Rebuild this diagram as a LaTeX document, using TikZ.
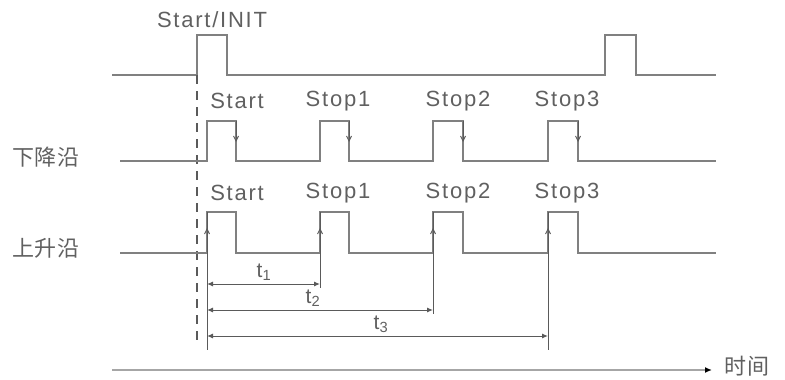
\documentclass[tikz,border=0pt]{standalone}
\usepackage{fontspec}
\setmainfont{Liberation Sans}[LetterSpace=8]
\newfontfamily\cjk{Noto Sans CJK SC}[LetterSpace=4]
\usetikzlibrary{arrows.meta}
\definecolor{wave}{HTML}{808080}
\definecolor{dim}{HTML}{5A5A5A}
\definecolor{txt}{HTML}{606060}
\begin{document}
\begin{tikzpicture}[x=1pt,y=-1pt,
  wavel/.style={draw=wave,line width=1.8pt},
  edgearrow/.style={draw=dim,line width=0.9pt,-{Straight Barb[length=5pt,width=5pt]}},
  dimline/.style={draw=dim,line width=1pt},
  dimarrow/.style={draw=dim,line width=1pt,{Latex[length=6pt,width=5pt]}-{Latex[length=6pt,width=5pt]}},
  lbl/.style={text=txt,font=\fontsize{22}{24}\selectfont,inner sep=0pt},
  cjklbl/.style={text=txt,font=\cjk\fontsize{22}{24}\selectfont,inner sep=0pt},
  tlbl/.style={text=txt,font=\fontsize{21}{24}\selectfont,inner sep=0pt}]
\useasboundingbox (0,0) rectangle (785,380);
% row 1: Start/INIT
\draw[wavel] (112,75) -- (197,75) -- (197,35) -- (227,35) -- (227,75) -- (605,75) -- (605,35) -- (636,35) -- (636,75) -- (716,75);
\node[lbl] (init) at (212,20) {Start/INIT};
% dashed reference line
\draw[dim,line width=1.2pt,dash pattern=on 9pt off 7pt] (197,75) -- (197,342);
% row 2: falling edge
\draw[wavel] (120,161) -- (207,161) -- (207,121) -- (236,121) -- (236,161)
  -- (320,161) -- (320,121) -- (349,121) -- (349,161)
  -- (433,161) -- (433,121) -- (463,121) -- (463,161)
  -- (548,161) -- (548,121) -- (578,121) -- (578,161) -- (716,161);
\foreach \x in {236,349,463,578}{
  \draw[edgearrow] (\x,121) -- (\x,142);
}
\node[lbl] (fa) at (237,101) {Start};
\node[lbl] (fb) at (338,101) {Stop1};
\node[lbl] (fc) at (458,101) {Stop2};
\node[lbl] (fd) at (567,101) {Stop3};
\node[cjklbl] (fall) at (46,157) {下降沿};
% row 3: rising edge
\draw[wavel] (120,253) -- (207,253) -- (207,212) -- (236,212) -- (236,253)
  -- (320,253) -- (320,212) -- (349,212) -- (349,253)
  -- (433,253) -- (433,212) -- (463,212) -- (463,253)
  -- (548,253) -- (548,212) -- (578,212) -- (578,253) -- (716,253);
\node[lbl] (ra) at (237,193) {Start};
\node[lbl] (rb) at (338,193) {Stop1};
\node[lbl] (rc) at (458,193) {Stop2};
\node[lbl] (rd) at (567,193) {Stop3};
\node[cjklbl] (rise) at (46,248) {上升沿};
% extension lines of rising edges
\coordinate (e0t) at (207,212); \coordinate (e0b) at (207,350);
\coordinate (e1t) at (320,212); \coordinate (e1b) at (320,288);
\coordinate (e2t) at (433,212); \coordinate (e2b) at (433,314);
\coordinate (e3t) at (548,212); \coordinate (e3b) at (548,350);
\foreach \n in {0,1,2,3}{ \draw[dimline] (e\n t) -- (e\n b); }
\foreach \x in {207,320,433,548}{
  \draw[edgearrow] (\x,253) -- (\x,228);
}
% dimension arrows
\coordinate (d1a) at (207,284); \coordinate (d1b) at (320,284);
\coordinate (d2a) at (207,310); \coordinate (d2b) at (433,310);
\coordinate (d3a) at (207,336); \coordinate (d3b) at (548,336);
\draw[dimarrow] (d1a) -- (d1b);
\draw[dimarrow] (d2a) -- (d2b);
\draw[dimarrow] (d3a) -- (d3b);
\node[tlbl] (t1) at (264,272) {t\textsubscript{1}};
\node[tlbl] (t2) at (313,298) {t\textsubscript{2}};
\node[tlbl] (t3) at (381,324) {t\textsubscript{3}};
% time axis
\coordinate (ax0) at (112,370);
\coordinate (ax1) at (712,370);
\draw[draw=wave!70,line width=2.2pt,-{Latex[length=7pt,width=6pt,fill=black,color=black]}] (ax0) -- (ax1);
\node[cjklbl] (time) at (747,366) {时间};
\end{tikzpicture}
\end{document}
